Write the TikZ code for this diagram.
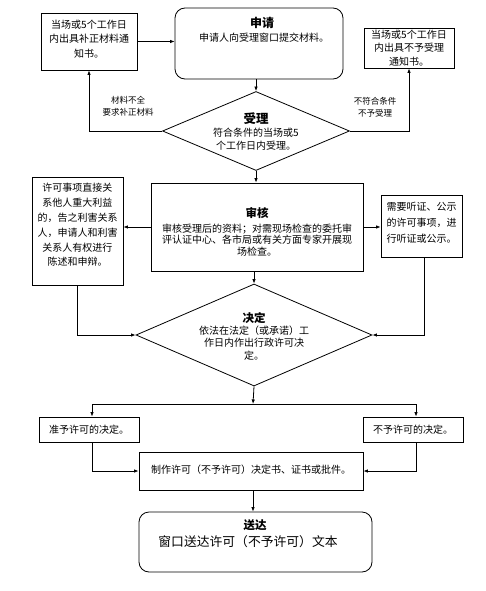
\documentclass[tikz,border=0pt]{standalone}
\usepackage{fontspec}
\setmainfont{Noto Sans CJK SC}
\usetikzlibrary{shapes.geometric,arrows.meta}
\begin{document}
\begin{tikzpicture}[x=1pt,y=-1pt,
  box/.style={draw,line width=0.8pt,inner sep=0pt,rectangle},
  rbox/.style={box,rounded corners=10pt},
  dia/.style={draw,line width=0.8pt,inner sep=0pt,diamond},
  txt/.style={align=center,inner sep=0pt,font=\fontsize{10}{13}\selectfont},
  ttl/.style={inner sep=0pt,font=\fontsize{11.5}{13}\selectfont\bfseries},
  lbl/.style={align=center,inner sep=0pt,font=\fontsize{8.5}{11.5}\selectfont},
  conn/.style={line width=0.8pt},
  arr/.style={line width=0.8pt,-{Latex[length=4.5pt,width=3.5pt]}}]
\useasboundingbox (0,0) rectangle (486,591);

% nodes
\node[box,minimum width=96pt,minimum height=57pt] (bz) at (89,41.5) {};
\node[txt,font=\fontsize{10}{14.5}\selectfont] (bzT) at (89,39) {当场或5个工作日\\内出具补正材料通\\知书。};

\node[rbox,minimum width=168pt,minimum height=71pt] (sq) at (259,43.5) {};
\node[ttl,font=\fontsize{12}{13}\selectfont\bfseries] (sqT) at (262,23) {申请};
\node[txt] (sqB) at (264,38) {申请人向受理窗口提交材料。};

\node[box,minimum width=90pt,minimum height=40pt] (bsl) at (409,48) {};
\node[txt,font=\fontsize{10}{13.5}\selectfont] (bslT) at (409,48) {当场或5个工作日\\内出具不予受理\\通知书。};

\node[dia,minimum width=187pt,minimum height=79pt] (sl) at (256,131) {};
\node[ttl,font=\fontsize{12.5}{13}\selectfont\bfseries] (slT) at (256,119) {受理};
\node[txt,font=\fontsize{10}{12.5}\selectfont] (slB) at (256,139) {符合条件的当场或5\\个工作日内受理。};

\node[lbl] (lblL) at (128,106) {材料不全\\要求补正材料};
\node[lbl] (lblR) at (375,107) {不符合条件\\不予受理};

\node[box,minimum width=212pt,minimum height=88pt] (sh) at (257,227) {};
\node[ttl] (shT) at (257,213) {审核};
\node[txt,font=\fontsize{10}{11.8}\selectfont] (shB) at (257,240) {审核受理后的资料；对需现场检查的委托审\\评认证中心、各市局或有关方面专家开展现\\场检查。};

\node[box,minimum width=91pt,minimum height=108pt] (xk) at (77.5,231) {};
\node[txt,font=\fontsize{10}{14.8}\selectfont] (xkT) at (77.5,225) {许可事项直接关\\系他人重大利益\\的，告之利害关系\\人，申请人和利害\\关系人有权进行\\陈述和申辩。};

\node[box,minimum width=81pt,minimum height=62pt] (tz) at (421.5,226) {};
\node[txt,font=\fontsize{10}{16}\selectfont] (tzT) at (421.5,223) {需要听证、公示\\的许可事项，进\\行听证或公示。};

\node[dia,minimum width=236pt,minimum height=102pt] (jd) at (254,335) {};
\node[ttl] (jdT) at (254,318) {决定};
\node[txt,font=\fontsize{10}{12.5}\selectfont] (jdB) at (254,343) {依法在法定（或承诺）工\\作日内作出行政许可决\\定。};

\node[box,minimum width=100pt,minimum height=25pt] (zy) at (89,429.5) {};
\node[txt] (zyT) at (89,429.5) {准予许可的决定。};
\node[box,minimum width=100pt,minimum height=25pt] (by) at (413,429.5) {};
\node[txt] (byT) at (413,429.5) {不予许可的决定。};

\node[box,minimum width=224pt,minimum height=38pt] (zz) at (251,471) {};
\node[txt] (zzT) at (251,470) {制作许可（不予许可）决定书、证书或批件。};

\node[rbox,minimum width=233pt,minimum height=60pt] (sd) at (255.5,542) {};
\node[ttl] (sdT) at (255,525) {送达};
\node[txt,font=\fontsize{12.8}{14}\selectfont] (sdB) at (248,542) {窗口送达许可（不予许可）文本};

% connectors
\draw[arr] (bz.east) -- (bz.east -| sq.west);
\draw[arr] (sl.north |- sq.south) -- (sl.north);
\draw[arr] (sl.west) -- (sl.west -| bz.south) -- (bz.south);
\draw[arr] (sl.east) -- (sl.east -| bsl.south) -- (bsl.south);
\draw[arr] (sl.south) -- (sl.south |- sh.north);
\draw[arr] (sh.west) -- (sh.west -| xk.east);
\draw[arr] (sh.east) -- (sh.east -| tz.west);
\draw[arr] (jd.north |- sh.south) -- (jd.north);
\draw[arr] (xk.south) -- (xk.south |- jd.west) -- (jd.west);
\coordinate (tzS) at ([xshift=3pt]tz.south);
\draw[arr] (tzS) -- (tzS |- jd.east) -- (jd.east);
\coordinate (j) at (253,404);
\draw[arr] (jd.south) -- (j);
\coordinate (jl) at (92,404);
\coordinate (jr) at (416,404);
\draw[conn] (jl) -- (jr);
\draw[arr] (jl) -- (jl |- zy.north);
\draw[arr] (jr) -- (jr |- by.north);
\coordinate (zyS) at (92,442);
\coordinate (byS) at (416,442);
\draw[arr] (zyS) -- (zyS |- zz.west) -- (zz.west);
\draw[arr] (byS) -- (byS |- zz.east) -- (zz.east);
\draw[arr] (zz.south -| j) -- (sd.north -| j);
\end{tikzpicture}
\end{document}
